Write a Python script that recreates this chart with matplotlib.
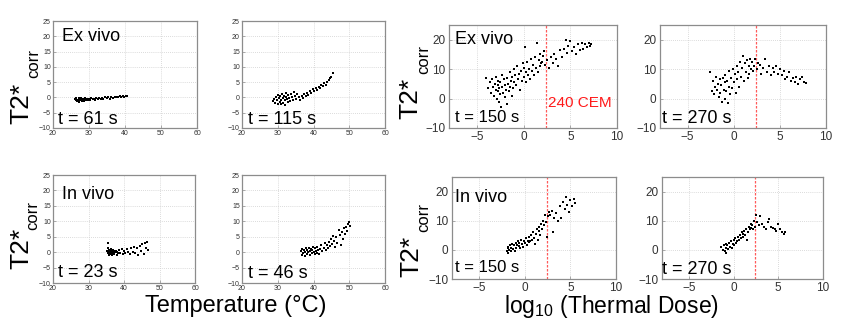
import matplotlib
matplotlib.use("Agg")
import matplotlib.pyplot as plt

plt.rcParams['font.family'] = ['Liberation Sans', 'DejaVu Sans']
plt.rcParams['mathtext.fontset'] = 'custom'
plt.rcParams['mathtext.rm'] = 'Liberation Sans'
plt.rcParams['mathtext.it'] = 'Liberation Sans'

# ---------------- data ----------------
temp_xticks = [20, 30, 40, 50, 60]
temp_yticks = [-10, -5, 0, 5, 10, 15, 20, 25]
dose_xticks = [-5, 0, 5, 10]
dose_yticks = [-10, 0, 10, 20]
cem_threshold = 2.38  # log10(240 CEM)

# Ex vivo, t = 61 s
exv61_T = [26.0, 26.3, 26.5, 26.8, 27.0, 27.1, 27.3, 27.5, 27.6, 27.8,
           28.0, 28.1, 28.3, 28.5, 28.7, 28.9, 29.0, 29.2, 29.5, 29.8,
           30.0, 30.3, 30.6, 31.0, 31.3, 31.6, 32.0, 32.4, 32.8, 33.2,
           33.6, 34.0, 34.5, 35.0, 35.4, 35.8, 36.2, 36.7, 37.1, 37.5,
           38.0, 38.5, 39.0, 39.4, 39.8, 40.2, 40.6]
exv61_Y = [-0.6, -1.0, -0.3, -1.2, -0.8, -0.2, -1.4, -0.6, -1.0, -0.1,
           -0.9, -1.3, -0.5, -0.8, -1.1, -0.3, -0.7, -1.0, -0.4, -0.8,
           -0.5, -0.9, -0.2, -0.6, -0.4, -0.8, -0.3, -0.5, -0.1, -0.6,
           -0.2, -0.4, 0.0, -0.3, 0.2, -0.5, 0.1, -0.2, 0.3, 0.0,
           0.2, 0.4, 0.1, 0.5, 0.3, 0.6, 0.4]

# Ex vivo, t = 115 s
exv115_T = [28.6, 29.0, 29.2, 29.5, 29.7, 30.0, 30.1, 30.3, 30.5, 30.7,
            30.9, 31.0, 31.2, 31.4, 31.5, 31.7, 31.9, 32.0, 32.2, 32.4,
            32.6, 32.8, 33.0, 33.2, 33.5, 33.7, 34.0, 34.3, 34.6, 34.9,
            35.2, 35.5, 35.9, 36.3, 36.7, 37.0, 37.4, 37.8, 38.2, 38.6,
            39.0, 39.4, 39.8, 40.2, 40.6, 41.0, 41.4, 41.8, 42.2, 42.6,
            43.0, 43.4, 43.8, 44.2, 44.6, 45.0, 45.5]
exv115_Y = [-1.2, -0.5, -1.8, 0.3, -1.0, -2.0, 0.8, -0.3, -1.5, 0.5,
            -2.3, -0.8, 1.2, -0.2, -1.9, 0.6, -1.0, -2.5, 0.2, 1.5,
            -0.6, -1.6, 0.9, -0.3, -1.2, 1.0, 0.0, -0.9, 1.8, 0.4,
            -0.5, 1.2, 0.3, -0.8, 0.6, -0.2, 1.0, 0.4, 1.6, 0.9,
            2.0, 1.4, 2.6, 2.0, 3.0, 2.5, 3.5, 3.0, 4.0, 3.6,
            4.6, 4.2, 5.2, 5.6, 6.3, 6.8, 8.0]

# In vivo, t = 23 s
inv23_T = [35.3, 35.4, 35.5, 35.6, 35.7, 35.8, 35.9, 36.0, 36.1, 36.2,
           36.3, 36.4, 36.5, 36.6, 36.7, 36.8, 36.9, 37.0, 37.2, 37.3,
           37.5, 37.7, 37.9, 38.1, 38.4, 38.7, 39.0, 39.3, 39.6, 40.0,
           40.4, 40.8, 41.2, 41.6, 42.0, 42.4, 42.8, 43.2, 43.6, 44.0,
           44.4, 44.8, 45.2, 45.6, 46.0, 46.3, 46.6, 46.8]
inv23_Y = [0.5, -0.3, 3.0, 1.5, 0.0, -0.8, 0.8, -0.2, 0.4, -0.6,
           1.0, 0.1, -0.4, 0.6, -1.0, 0.2, -0.3, 0.8, -0.6, 0.3,
           -0.1, 0.5, -0.8, 0.2, -0.4, 0.6, -0.2, 0.9, -0.6, 0.4,
           -0.3, 1.0, 0.2, -0.5, 1.3, 0.0, 1.8, -0.4, 1.2, -0.8,
           2.0, 0.3, 2.6, -0.6, 3.0, 1.5, 3.4, 0.8]

# In vivo, t = 46 s
inv46_T = [36.5, 36.7, 36.9, 37.1, 37.3, 37.5, 37.7, 37.9, 38.1, 38.3,
           38.5, 38.7, 38.9, 39.1, 39.3, 39.5, 39.7, 39.9, 40.1, 40.3,
           40.5, 40.7, 40.9, 41.1, 41.3, 41.6, 41.9, 42.2, 42.5, 42.8,
           43.1, 43.4, 43.7, 44.0, 44.3, 44.6, 44.9, 45.2, 45.5, 45.8,
           46.1, 46.4, 46.7, 47.0, 47.3, 47.6, 47.9, 48.2, 48.5, 48.8,
           49.1, 49.4, 49.7, 50.0, 50.1]
inv46_Y = [0.3, -0.8, 1.0, -0.2, 0.6, -1.2, 0.2, 1.3, -0.5, 0.8,
           -0.1, 1.5, -0.9, 0.4, 1.1, -0.3, 0.7, 1.8, 0.0, -0.7,
           1.2, 0.4, -0.2, 1.6, 0.6, -0.5, 1.0, 2.2, 0.4, 1.5,
           3.0, 0.8, 2.4, 1.2, 3.4, 2.0, 4.4, 2.8, 5.2, 3.6,
           1.6, 4.8, 3.0, 7.2, 5.6, 2.2, 6.6, 4.4, 7.8, 6.0,
           8.2, 7.0, 9.0, 9.8, 8.6]

# Ex vivo, t = 150 s (log10 thermal dose)
exv150_D = [-4.0, -3.8, -3.6, -3.5, -3.4, -3.3, -3.2, -3.1, -3.0, -3.0,
            -2.9, -2.8, -2.8, -2.7, -2.6, -2.6, -2.5, -2.5, -2.4, -2.3,
            -2.3, -2.2, -2.1, -2.0, -2.0, -1.9, -1.8, -1.8, -1.7, -1.6,
            -1.5, -1.5, -1.4, -1.3, -1.2, -1.1, -1.0, -1.0, -0.9, -0.8,
            -0.7, -0.6, -0.5, -0.4, -0.3, -0.2, -0.1, 0.0, 0.0, 0.1,
            0.2, 0.3, 0.4, 0.5, 0.6, 0.7, 0.8, 0.9, 1.0, 1.1,
            1.2, 1.3, 1.4, 1.5, 1.6, 1.7, 1.8, 1.9, 2.0, 2.1,
            2.2, 2.3, 2.5, 2.7, 2.9, 3.1, 3.3, 3.5, 3.7, 3.9,
            4.1, 4.3, 4.5, 4.6, 4.8, 5.0, 5.2, 5.4, 5.6, 5.8,
            6.0, 6.2, 6.4, 6.6, 6.8, 7.0, 7.1, 7.2]
exv150_Y = [7.0, 3.5, 5.5, 2.0, 6.5, 4.0, 1.0, 5.0, 3.0, 7.5,
            0.0, 4.5, 2.5, 6.0, -1.0, 3.5, 5.5, 1.5, -3.0, 4.0,
            8.0, 2.0, 6.5, 0.5, 4.5, 3.0, 7.0, -2.0, 5.0, 2.5,
            9.0, 4.0, 6.0, 1.0, 7.5, 3.5, 10.0, 5.5, 8.0, 4.5,
            11.0, 6.5, 8.5, 3.0, 9.5, 6.0, 12.0, 7.5, 10.5, 17.5,
            5.5, 9.0, 12.5, 8.0, 10.0, 6.5, 13.5, 9.5, 11.5, 8.0,
            14.0, 10.5, 19.0, 9.0, 13.0, 11.0, 15.0, 12.0, 12.5, 14.5,
            16.0, 11.5, 13.0, 10.5, 14.0, 12.0, 15.0, 13.5, 11.0, 16.5,
            14.0, 17.0, 20.0, 15.5, 18.0, 19.5, 16.0, 17.5, 15.0, 18.5,
            16.5, 19.0, 17.0, 18.5, 17.5, 19.0, 18.0, 18.5]

# Ex vivo, t = 270 s
exv270_D = [-2.6, -2.4, -2.2, -2.1, -2.0, -1.9, -1.8, -1.7, -1.6, -1.5,
            -1.5, -1.4, -1.3, -1.2, -1.1, -1.0, -1.0, -0.9, -0.8, -0.7,
            -0.6, -0.5, -0.5, -0.4, -0.3, -0.2, -0.1, 0.0, 0.1, 0.2,
            0.3, 0.4, 0.5, 0.6, 0.7, 0.8, 0.9, 1.0, 1.1, 1.2,
            1.3, 1.4, 1.5, 1.6, 1.7, 1.8, 1.9, 2.0, 2.1, 2.2,
            2.3, 2.5, 2.6, 2.8, 3.0, 3.2, 3.4, 3.6, 3.8, 4.0,
            4.2, 4.4, 4.6, 4.8, 5.0, 5.2, 5.4, 5.6, 5.8, 6.0,
            6.2, 6.4, 6.6, 6.8, 7.0, 7.2, 7.4, 7.6, 7.8]
exv270_Y = [9.0, 2.5, 6.0, 1.5, 4.0, 7.5, 3.0, 5.0, 0.5, 6.5,
            2.0, 4.5, -1.0, 7.0, 3.0, 5.5, 0.0, 8.0, 2.5, 6.0,
            -1.5, 4.0, 9.5, 1.5, 7.0, 3.5, 10.0, 5.5, 8.5, 2.0,
            11.0, 6.5, 9.0, 4.0, 12.5, 7.5, 10.5, 14.5, 6.0, 12.0,
            9.0, 13.0, 7.0, 11.0, 8.5, 13.5, 10.0, 12.5, 9.5, 11.0,
            13.5, 10.0, 12.0, 11.5, 8.5, 10.5, 13.5, 9.0, 11.0, 8.0,
            10.5, 9.0, 11.0, 8.5, 10.0, 8.0, 9.5, 6.5, 7.5, 9.0,
            6.0, 7.0, 5.5, 7.5, 4.8, 6.5, 7.2, 5.5, 5.2]

# In vivo, t = 150 s
inv150_D = [-2.0, -1.9, -1.8, -1.8, -1.7, -1.6, -1.5, -1.5, -1.4, -1.3,
            -1.2, -1.1, -1.0, -1.0, -0.9, -0.8, -0.7, -0.6, -0.5, -0.4,
            -0.3, -0.2, -0.1, 0.0, 0.1, 0.2, 0.3, 0.4, 0.5, 0.6,
            0.7, 0.8, 0.9, 1.0, 1.1, 1.2, 1.3, 1.4, 1.5, 1.6,
            1.7, 1.8, 1.9, 2.0, 2.1, 2.2, 2.3, 2.4, 2.5, 2.6,
            2.8, 3.0, 3.1, 3.2, 3.4, 3.6, 3.8, 4.0, 4.2, 4.4,
            4.5, 4.6, 4.8, 5.0, 5.2, 5.4, 5.5]
inv150_Y = [-0.5, 0.5, -1.0, 1.0, 0.0, 1.5, -0.5, 0.8, 2.0, 0.3,
            1.5, -0.3, 2.5, 0.8, 1.8, 3.0, 1.2, 2.2, 0.5, 3.5,
            2.0, 1.0, 3.0, 2.5, 4.0, 1.8, 3.2, 2.6, 4.5, 3.0,
            5.0, 3.5, 6.0, 4.2, 2.0, 5.5, 7.0, 3.5, 6.5, 8.0,
            5.0, 9.0, 7.0, 10.0, 8.5, 12.0, 9.5, 4.5, 11.5, 13.0,
            12.0, 13.5, 6.0, 11.0, 12.5, 10.0, 15.0, 11.0, 16.5, 14.0,
            18.0, 15.5, 13.0, 17.0, 15.0, 17.5, 16.0]

# In vivo, t = 270 s
inv270_D = [-1.4, -1.2, -1.1, -1.0, -0.9, -0.8, -0.8, -0.7, -0.6, -0.5,
            -0.4, -0.3, -0.2, -0.1, 0.0, 0.1, 0.2, 0.3, 0.4, 0.5,
            0.6, 0.7, 0.8, 0.9, 1.0, 1.1, 1.2, 1.3, 1.4, 1.5,
            1.6, 1.7, 1.8, 1.9, 2.0, 2.1, 2.2, 2.3, 2.4, 2.5,
            2.6, 2.8, 3.0, 3.2, 3.4, 3.6, 3.8, 4.0, 4.2, 4.4,
            4.6, 4.8, 5.0, 5.2, 5.4, 5.6, 5.8]
inv270_Y = [1.0, 0.0, 1.5, -0.5, 2.0, 0.5, -1.2, 1.8, 0.2, 2.5,
            1.0, 3.0, 0.5, 2.0, 3.5, 1.5, 4.0, 2.5, 3.0, 4.5,
            3.5, 5.0, 4.0, 6.0, 4.5, 5.5, 6.5, 5.0, 7.0, 3.5,
            6.0, 8.0, 7.0, 7.5, 9.0, 8.5, 7.0, 10.0, 8.0, 12.0,
            9.5, 8.5, 11.5, 9.0, 8.0, 7.0, 9.5, 10.5, 8.0, 7.5,
            7.0, 6.5, 9.0, 7.0, 6.0, 5.5, 6.0]

# ---------------- figure ----------------
W, H = 841, 320
fig = plt.figure(figsize=(W / 100, H / 100), dpi=100)


def rect(x0, y0, x1, y1):
    return [x0 / W, 1 - y1 / H, (x1 - x0) / W, (y1 - y0) / H]


spine_c = '#8c8c8c'
grid_c = '#cfcfcf'


def style(ax, xlim, ylim, xt, yt, fs, pad):
    ax.set_xlim(*xlim)
    ax.set_ylim(*ylim)
    ax.set_xticks(xt)
    ax.set_yticks(yt)
    ax.grid(True, color=grid_c, linestyle=(0, (1, 1.5)), linewidth=0.6)
    ax.set_axisbelow(True)
    for s in ax.spines.values():
        s.set_color(spine_c)
        s.set_linewidth(0.9)
    ax.tick_params(direction='in', length=2, width=0.5, color=spine_c,
                   labelsize=fs, labelcolor='#333333', pad=pad)


def temp_panel(box, T, Y, labels):
    ax = fig.add_axes(rect(*box))
    style(ax, (20, 60), (-10, 25), temp_xticks, temp_yticks, 5, 1.5)
    ax.scatter(T, Y, s=1.6, c='black', marker='s', linewidths=0)
    for txt, xa, ya in labels:
        ax.text(xa, ya, txt, transform=ax.transAxes, fontsize=13,
                ha='left', va='center', color='black')
    return ax


def dose_panel(box, D, Y, labels):
    ax = fig.add_axes(rect(*box))
    style(ax, (-8, 10), (-10, 25), dose_xticks, dose_yticks, 8.5, 2.5)
    ax.axvline(cem_threshold, color='#ff5a5a', linestyle=(0, (2, 1.2)),
               linewidth=0.9, zorder=1)
    ax.scatter(D, Y, s=4, c='black', marker='s', linewidths=0, zorder=3)
    for txt, xa, ya, fs in labels:
        ax.text(xa, ya, txt, transform=ax.transAxes, fontsize=fs,
                ha='left', va='center', color='black')
    return ax


temp_panel((53, 21, 197, 128), exv61_T, exv61_Y,
           [("Ex vivo", 0.06, 0.855), ("t = 61 s", 0.035, 0.075)])
temp_panel((242, 21, 385, 128), exv115_T, exv115_Y,
           [("t = 115 s", 0.04, 0.075)])
temp_panel((53, 175, 195, 283), inv23_T, inv23_Y,
           [("In vivo", 0.06, 0.815), ("t = 23 s", 0.035, 0.095)])
temp_panel((242, 175, 385, 283), inv46_T, inv46_Y,
           [("t = 46 s", 0.04, 0.09)])

a5 = dose_panel((449, 25, 617, 128), exv150_D, exv150_Y,
                [("Ex vivo", 0.036, 0.855, 13), ("t = 150 s", 0.036, 0.1, 12)])
a5.text(2.65, -1.5, "240 CEM", color='#ff1a1a', fontsize=11,
        ha='left', va='center')
dose_panel((660, 25, 826, 128), exv270_D, exv270_Y,
           [("t = 270 s", 0.012, 0.09, 13)])
dose_panel((452, 177, 616, 279), inv150_D, inv150_Y,
           [("In vivo", 0.02, 0.8, 13), ("t = 150 s", 0.02, 0.11, 12)])
dose_panel((662, 177, 823, 279), inv270_D, inv270_Y,
           [("t = 270 s", 0.0, 0.09, 13)])


def ylab(xc, yc, xs, ys):
    fig.text(xc / W, 1 - yc / H, "T2*", rotation=90, fontsize=19,
             ha='center', va='center')
    fig.text(xs / W, 1 - ys / H, "corr", rotation=90, fontsize=12,
             ha='center', va='center')


ylab(21, 103, 34, 64)
ylab(21, 248, 33, 215)
ylab(410, 98, 424, 59)
ylab(411, 256, 424, 218)

fig.text(236 / W, 1 - 312 / H, "Temperature (°C)", fontsize=17,
         ha='center', va='baseline')
fig.text(611 / W, 1 - 313 / H, r"log$_{10}$ (Thermal Dose)", fontsize=16.5,
         ha='center', va='baseline')

fig.savefig("out.png", dpi=100)
